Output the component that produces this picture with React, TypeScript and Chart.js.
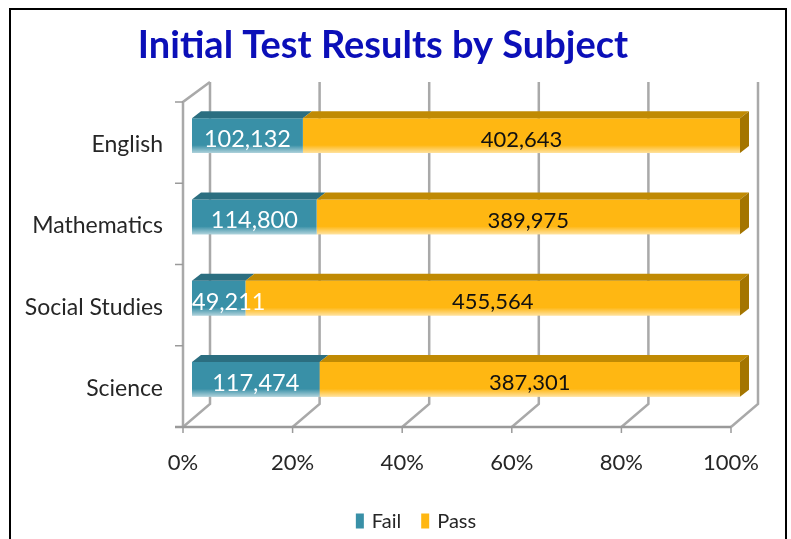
import { useEffect, useRef } from "react";
import { Chart, registerables } from "chart.js";

Chart.register(...registerables);

// ---- data ----
const chartTitle = "Initial Test Results by Subject";
const categories = ["English", "Mathematics", "Social Studies", "Science"];
const seriesNames = ["Fail", "Pass"];
const failCounts = [102132, 114800, 49211, 117474];
const passCounts = [402643, 389975, 455564, 387301];
const xTickValues = [0, 20, 40, 60, 80, 100];

const totals = categories.map((_, i) => failCounts[i] + passCounts[i]);
const failPct = failCounts.map((v, i) => (v / totals[i]) * 100);
const passPct = passCounts.map((v, i) => (v / totals[i]) * 100);
const countsBySeries = [failCounts, passCounts];

// ---- styles ----
const FONT = "Lato, 'Open Sans', sans-serif";
const FRONT = ["#3990a7", "#ffb712"];
const TOPS = ["#2b6e80", "#c08a03"];
const PASS_SIDE = "#a47500";
const GRID = "#a9a9a9";
const AXIS = "#9a9a9a";
const TEXT = "#262626";

// 3D offsets (pixels) relative to the bar plane (chart area)
const FRONT_DX = -9;
const FRONT_DY = 7;
const BACK_DX = 18;
const BACK_DY_TOP = -13;
const BACK_DY_BOTTOM = -16;
const BAR_DX = 9;
const BAR_DY = -7;

const fmt = (n: number) => n.toLocaleString("en-US");

const threeDPlugin = {
  id: "threeD",
  beforeDraw(chart: any) {
    const ctx = chart.ctx;
    ctx.save();
    ctx.fillStyle = "#ffffff";
    ctx.fillRect(0, 0, chart.width, chart.height);
    ctx.strokeStyle = "#000000";
    ctx.lineWidth = 2;
    ctx.strokeRect(10, 9, 776, 640);
    // title
    ctx.fillStyle = "#0b0fb8";
    ctx.font = `bold 38px ${FONT}`;
    ctx.textAlign = "center";
    ctx.textBaseline = "middle";
    ctx.fillText(chartTitle, 383, 46);
    ctx.restore();
  },
  beforeDatasetsDraw(chart: any) {
    const { ctx, chartArea: a } = chart;
    const x = chart.scales.x;
    const y = chart.scales.y;
    const fl = a.left + FRONT_DX;
    const fr = a.right + FRONT_DX;
    const ft = a.top + FRONT_DY;
    const fb = a.bottom + FRONT_DY;
    const bt = a.top + BACK_DY_TOP;
    const bb = a.bottom + BACK_DY_BOTTOM;
    ctx.save();
    ctx.lineCap = "butt";
    // back wall gridlines + floor diagonals
    ctx.strokeStyle = GRID;
    ctx.lineWidth = 2.5;
    xTickValues.forEach((t) => {
      const px = x.getPixelForValue(t);
      const xf = px + FRONT_DX;
      const xb = px + BACK_DX;
      ctx.beginPath();
      ctx.moveTo(xf, fb);
      ctx.lineTo(xb, bb);
      ctx.lineTo(xb, bt);
      ctx.stroke();
    });
    // left wall
    ctx.beginPath();
    ctx.moveTo(fl, fb);
    ctx.lineTo(fl, ft);
    ctx.lineTo(x.getPixelForValue(0) + BACK_DX, bt);
    ctx.stroke();
    // floor front line
    ctx.strokeStyle = AXIS;
    ctx.beginPath();
    ctx.moveTo(fl - 8, fb);
    ctx.lineTo(fr, fb);
    ctx.stroke();
    // x ticks
    ctx.lineWidth = 1.5;
    xTickValues.forEach((t) => {
      const xf = x.getPixelForValue(t) + FRONT_DX;
      ctx.beginPath();
      ctx.moveTo(xf, fb);
      ctx.lineTo(xf, fb + 6);
      ctx.stroke();
    });
    // y ticks at category boundaries
    for (let i = 0; i <= categories.length; i++) {
      const yy = y.getPixelForValue(i - 0.5) + FRONT_DY;
      ctx.beginPath();
      ctx.moveTo(fl - 8, yy);
      ctx.lineTo(fl, yy);
      ctx.stroke();
    }
    ctx.restore();
  },
  afterDatasetsDraw(chart: any) {
    const ctx = chart.ctx;
    ctx.save();
    const n = chart.data.datasets.length;
    for (let di = 0; di < n; di++) {
      const meta = chart.getDatasetMeta(di);
      meta.data.forEach((bar: any) => {
        const p = bar.getProps(["x", "y", "base", "height"], true);
        const x1 = Math.min(p.base, p.x);
        const x2 = Math.max(p.base, p.x);
        const top = p.y - p.height / 2;
        const bottom = p.y + p.height / 2;
        // bottom highlight
        const g = ctx.createLinearGradient(0, bottom - 8, 0, bottom);
        g.addColorStop(0, "rgba(255,255,255,0)");
        g.addColorStop(1, "rgba(255,255,255,0.6)");
        ctx.fillStyle = g;
        ctx.fillRect(x1, bottom - 8, x2 - x1, 8);
        // top face
        ctx.fillStyle = TOPS[di];
        ctx.beginPath();
        ctx.moveTo(x1, top);
        ctx.lineTo(x1 + BAR_DX, top + BAR_DY);
        ctx.lineTo(x2 + BAR_DX, top + BAR_DY);
        ctx.lineTo(x2, top);
        ctx.closePath();
        ctx.fill();
        if (di === n - 1) {
          ctx.fillStyle = PASS_SIDE;
          ctx.beginPath();
          ctx.moveTo(x2, top);
          ctx.lineTo(x2 + BAR_DX, top + BAR_DY);
          ctx.lineTo(x2 + BAR_DX, bottom + BAR_DY);
          ctx.lineTo(x2, bottom);
          ctx.closePath();
          ctx.fill();
        }
      });
    }
    // value labels
    ctx.textAlign = "center";
    ctx.textBaseline = "middle";
    for (let di = 0; di < n; di++) {
      const meta = chart.getDatasetMeta(di);
      meta.data.forEach((bar: any, i: number) => {
        const p = bar.getProps(["x", "y", "base"], true);
        const x1 = Math.min(p.base, p.x);
        if (di === 0) {
          ctx.fillStyle = "#ffffff";
          ctx.font = `23.5px ${FONT}`;
        } else {
          ctx.fillStyle = "#111111";
          ctx.font = `22px ${FONT}`;
        }
        const txt = fmt(countsBySeries[di][i]);
        const w = ctx.measureText(txt).width;
        const cx = Math.max((p.x + p.base) / 2, x1 + w / 2);
        ctx.fillText(txt, cx, p.y + 4);
      });
    }
    ctx.restore();
  },
  afterDraw(chart: any) {
    // legend
    const ctx = chart.ctx;
    ctx.save();
    ctx.font = `20px ${FONT}`;
    ctx.textBaseline = "middle";
    ctx.textAlign = "left";
    const ds = chart.data.datasets;
    const cy = 521;
    const boxW = 8;
    const boxH = 15;
    const gap = 8;
    const itemPad = 20;
    const widths = ds.map((d: any) => boxW + gap + ctx.measureText(d.label).width);
    const total = widths.reduce((s: number, w: number) => s + w, 0) + itemPad * (ds.length - 1);
    let lx = 416 - total / 2;
    ds.forEach((d: any, i: number) => {
      ctx.fillStyle = d.backgroundColor;
      ctx.fillRect(lx, cy - boxH / 2, boxW, boxH);
      ctx.fillStyle = TEXT;
      ctx.fillText(d.label, lx + boxW + gap, cy + 1);
      lx += widths[i] + itemPad;
    });
    ctx.restore();
  },
};

export default function App() {
  const canvasRef = useRef<HTMLCanvasElement | null>(null);

  useEffect(() => {
    if (!canvasRef.current) return;
    const chart = new Chart(canvasRef.current, {
      type: "bar",
      data: {
        labels: categories,
        datasets: [
          {
            label: seriesNames[0],
            data: failPct,
            backgroundColor: FRONT[0],
            borderWidth: 0,
            barPercentage: 0.43,
            categoryPercentage: 1,
          },
          {
            label: seriesNames[1],
            data: passPct,
            backgroundColor: FRONT[1],
            borderWidth: 0,
            barPercentage: 0.43,
            categoryPercentage: 1,
          },
        ],
      },
      options: {
        indexAxis: "y",
        responsive: false,
        animation: false,
        devicePixelRatio: 1,
        layout: { padding: { top: 95, left: 0, right: 51, bottom: 37 } },
        plugins: {
          legend: { display: false },
          title: { display: false },
          tooltip: { enabled: false },
        },
        scales: {
          x: {
            stacked: true,
            min: 0,
            max: 100,
            grid: { display: false, drawTicks: false },
            border: { display: false },
            afterBuildTicks: (s: any) => {
              s.ticks = xTickValues.map((v) => ({ value: v }));
            },
            afterFit: (s: any) => {
              s.height = 82;
              s.paddingLeft = 0;
              s.paddingRight = 0;
            },
            ticks: {
              padding: 30,
              labelOffset: FRONT_DX,
              color: TEXT,
              font: { family: FONT, size: 22 },
              callback: (v: any) => `${v}%`,
              maxRotation: 0,
              autoSkip: false,
            },
          },
          y: {
            stacked: true,
            grid: { display: false, drawTicks: false },
            border: { display: false },
            afterFit: (s: any) => {
              s.width = 192;
              s.paddingTop = 0;
              s.paddingBottom = 0;
            },
            ticks: {
              padding: 29,
              labelOffset: 9,
              color: TEXT,
              font: { family: FONT, size: 23 },
            },
          },
        },
      },
      plugins: [threeDPlugin],
    });
    return () => chart.destroy();
  }, []);

  return (
    <div style={{ position: "absolute", left: 0, top: 0, width: 791, height: 539, background: "#fff" }}>
      <canvas ref={canvasRef} width={791} height={539} />
    </div>
  );
}
